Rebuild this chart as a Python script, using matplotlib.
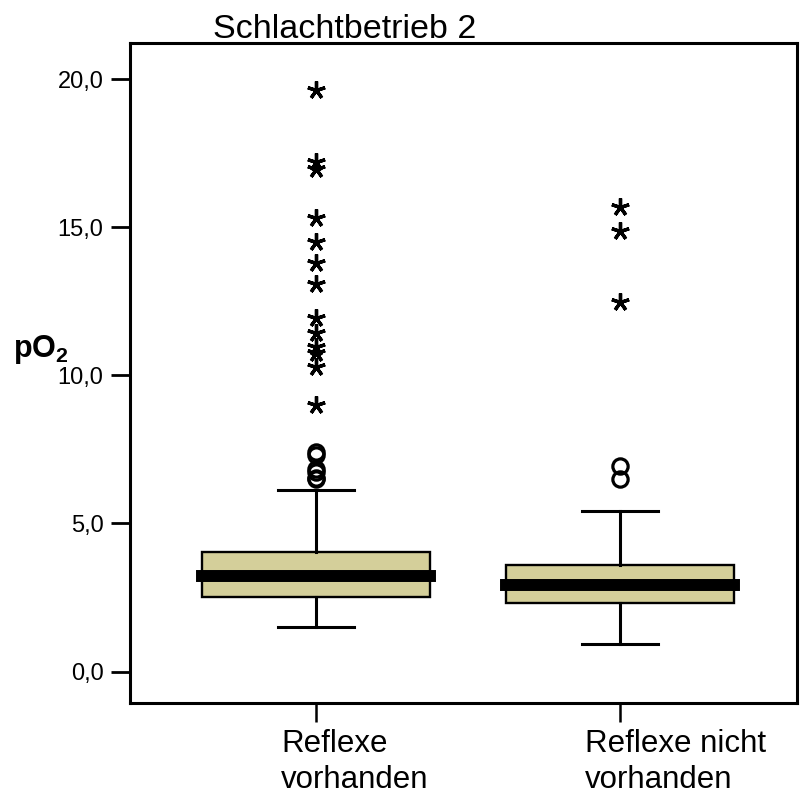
import matplotlib
matplotlib.use('Agg')
from matplotlib import pyplot as plt
import matplotlib.transforms as mtransforms

plt.rcParams['font.family'] = ['Liberation Sans', 'DejaVu Sans']
plt.rcParams['mathtext.fontset'] = 'custom'
plt.rcParams['mathtext.bf'] = 'Liberation Sans:bold'
plt.rcParams['mathtext.rm'] = 'Liberation Sans'

# values
groups = ['Reflexe\nvorhanden', 'Reflexe nicht\nvorhanden']
q1 = [2.53, 2.33]
med = [3.24, 2.93]
q3 = [4.05, 3.61]
whislo = [1.52, 0.94]
whishi = [6.14, 5.43]
circles = [[7.4, 7.3, 6.85, 6.75, 6.55, 6.5], [6.95, 6.5]]
stars = [[19.63, 17.2, 16.95, 15.3, 14.5, 13.8, 13.1, 11.94, 11.43, 10.96, 10.76, 10.29, 9.0],
         [15.68, 14.87, 12.48]]
yticks = [0, 5, 10, 15, 20]

fig = plt.figure(figsize=(8, 7.96), dpi=100)
ax = fig.add_axes([130/800, 93/796, 667/800, 660/796])

stats = []
for i in range(len(groups)):
    stats.append(dict(med=med[i], q1=q1[i], q3=q3[i], whislo=whislo[i], whishi=whishi[i], fliers=[]))

pos = [1, 2]
ax.bxp(stats, positions=pos, widths=0.75, capwidths=0.25, patch_artist=True, showfliers=False,
       boxprops=dict(facecolor='#d4cf9a', edgecolor='black', linewidth=1.7),
       whiskerprops=dict(color='black', linewidth=2.2),
       capprops=dict(color='black', linewidth=2.2),
       medianprops=dict(color='black', linewidth=8.6, solid_capstyle='projecting'))

for i in range(len(groups)):
    ax.plot([pos[i]]*len(circles[i]), circles[i], 'o', mfc='none', mec='black', ms=11, mew=2.3, zorder=5)
    ax.plot([pos[i]]*len(stars[i]), stars[i], marker=(5, 2, 0), ls='none', color='black',
            ms=13, mew=2.4, zorder=5)

ax.set_xlim(0.388, 2.582)
ax.set_ylim(-1.06, 21.22)
ax.set_yticks(yticks)
ax.yaxis.set_major_formatter(matplotlib.ticker.FuncFormatter(lambda v, p: ('%.1f' % v).replace('.', ',')))
ax.set_xticks(pos)
ax.set_xticklabels(['', ''])
off = mtransforms.ScaledTranslation(-35/100, -26/100, fig.dpi_scale_trans)
for i in range(len(groups)):
    ax.text(pos[i], 0, groups[i], transform=ax.get_xaxis_transform() + off,
            fontsize=22.5, ha='left', va='top', linespacing=1.25)

ax.tick_params(axis='y', labelsize=17, length=14, width=2.0, direction='out', pad=5)
ax.tick_params(axis='x', length=14, width=1.8, direction='out')
for s in ax.spines.values():
    s.set_linewidth(2.2)

fig.text(213/800, 1 - 38/796, 'Schlachtbetrieb 2', fontsize=24.5, va='baseline', ha='left')
fig.text(13/800, 1 - 357/796, r'$\mathbf{pO_2}$', fontsize=22, va='baseline', ha='left')

plt.savefig('out.png', dpi=100)
